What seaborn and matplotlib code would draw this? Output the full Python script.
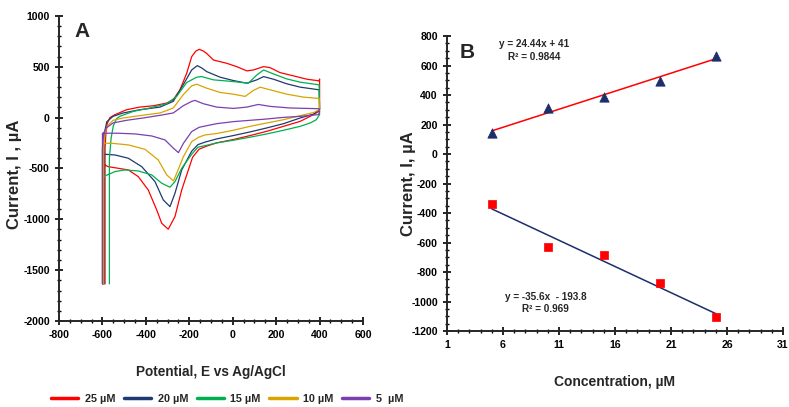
import matplotlib
matplotlib.use("Agg")
import matplotlib.pyplot as plt
from matplotlib import font_manager
from matplotlib.ticker import MultipleLocator
import seaborn as sns
import numpy as np
import pandas as pd

# --- panel A: cyclic voltammograms (E in mV, I in uA) ---
conc_labels = ["25 µM", "20 µM", "15 µM", "10 µM", "5  µM"]
cv_colors = ["#FF0000", "#1F3A70", "#00B050", "#D9A400", "#7B3FB0"]

e_25 = [-588, -588, -584, -578, -566, -543, -489, -428, -366, -305, -274, -243, -212, -189, -170, -154, -135, -120, -89, -28, 18, 65, 95, 142, 172, 218, 280, 342, 398, 400, 400,
        395, 372, 311, 234, 157, 80, 3, -74, -120, -155, -185, -235, -266, -297, -327, -350, -389, -435, -481, -527, -573, -590, -596, -596]
i_25 = [-1635, -300, -150, -60, 0, 29, 78, 104, 117, 143, 176, 274, 437, 600, 655, 672, 655, 632, 567, 535, 502, 460, 469, 502, 492, 443, 411, 378, 362, 380, 85,
        60, 30, -36, -85, -134, -176, -215, -248, -280, -310, -390, -711, -973, -1097, -1039, -908, -711, -580, -514, -498, -482, -465, -465, -1635]

e_20 = [-592, -592, -588, -580, -551, -505, -428, -335, -274, -228, -189, -163, -140, -120, -58, 3, 65, 111, 142, 188, 249, 311, 398, 400,
        372, 311, 234, 157, 80, 3, -74, -127, -160, -189, -235, -266, -289, -320, -358, -419, -481, -542, -588, -594, -594]
i_20 = [-1635, -300, -120, -40, 13, 46, 78, 104, 160, 323, 469, 512, 485, 453, 398, 365, 339, 372, 404, 378, 333, 300, 274, 80,
        35, -3, -59, -101, -140, -176, -209, -240, -265, -330, -514, -744, -875, -809, -629, -482, -399, -367, -360, -360, -1635]

e_15 = [-568, -568, -560, -550, -535, -520, -458, -382, -305, -258, -212, -166, -143, -89, 3, 72, 111, 142, 188, 249, 311, 398, 400,
        385, 357, 311, 234, 157, 80, 3, -74, -127, -160, -189, -235, -266, -289, -327, -373, -435, -496, -542, -588, -596, -596]
i_15 = [-1635, -400, -200, -80, -10, 13, 62, 95, 137, 209, 346, 398, 404, 372, 355, 339, 420, 469, 430, 381, 349, 323, 30,
        -20, -52, -85, -124, -160, -192, -222, -248, -275, -290, -360, -498, -629, -684, -645, -563, -524, -514, -530, -573, -580, -1635]

e_10 = [-594, -594, -588, -578, -551, -505, -428, -335, -274, -228, -189, -166, -120, -58, 3, 57, 95, 126, 172, 249, 326, 398, 400,
        372, 311, 234, 157, 80, 3, -74, -127, -155, -189, -227, -258, -273, -304, -343, -404, -481, -557, -592, -597, -597]
i_10 = [-1635, -300, -150, -85, -26, -3, 20, 46, 95, 225, 313, 329, 290, 248, 231, 209, 267, 300, 274, 231, 202, 189, 80,
        50, 20, -20, -52, -85, -124, -156, -170, -190, -236, -383, -547, -622, -563, -416, -311, -268, -252, -252, -252, -1635]

e_5 = [-600, -600, -594, -582, -551, -489, -412, -335, -274, -228, -189, -174, -135, -74, 3, 65, 118, 172, 265, 398, 400,
       395, 311, 234, 157, 80, 3, -74, -127, -155, -189, -227, -250, -273, -312, -373, -450, -527, -595, -600, -600]
i_5 = [-1635, -300, -150, -101, -52, -26, -3, 23, 46, 117, 160, 170, 137, 104, 91, 104, 130, 111, 95, 88, 60,
       30, 13, 3, -13, -26, -39, -59, -82, -95, -137, -252, -344, -301, -219, -180, -160, -153, -153, -153, -1635]

# --- panel B: calibration ---
conc = [5, 10, 15, 20, 25]
i_ox = [145, 312, 389, 497, 664]
i_red = [-341, -628, -687, -872, -1107]

sns.set_style("ticks")
names = {f.name for f in font_manager.fontManager.ttflist}
narrow = "Liberation Sans Narrow" if "Liberation Sans Narrow" in names else "Liberation Sans"
plt.rcParams["font.family"] = [narrow, "DejaVu Sans"]
plt.rcParams["font.weight"] = "bold"
plt.rcParams["axes.labelweight"] = "bold"
plt.rcParams["axes.linewidth"] = 1.4
plt.rcParams["axes.unicode_minus"] = False
plt.rcParams["xtick.color"] = "black"
plt.rcParams["ytick.color"] = "black"

rows = []
for lab, e, i in zip(conc_labels, [e_25, e_20, e_15, e_10, e_5], [i_25, i_20, i_15, i_10, i_5]):
    for k in range(len(e)):
        rows.append({"E": e[k], "I": i[k], "conc": lab})
cv = pd.DataFrame(rows)

fig = plt.figure(figsize=(7.89, 4.07), dpi=100)
ax1 = fig.add_axes([0.0748, 0.2113, 0.3853, 0.7494])
ax2 = fig.add_axes([0.5665, 0.1867, 0.4259, 0.7248])

sns.lineplot(data=cv, x="E", y="I", hue="conc", hue_order=conc_labels, palette=cv_colors,
             sort=False, estimator=None, lw=0.9, ax=ax1)
handles, labels = ax1.get_legend_handles_labels()
ax1.get_legend().remove()

ax1.set_xlim(-800, 600)
ax1.set_ylim(-2000, 1000)
ax1.xaxis.set_major_locator(MultipleLocator(200))
ax1.xaxis.set_minor_locator(MultipleLocator(50))
ax1.yaxis.set_major_locator(MultipleLocator(500))
ax1.yaxis.set_minor_locator(MultipleLocator(100))
ax1.set_xlabel("Potential, E vs Ag/AgCl", fontsize=9.8)
ax1.set_ylabel("Current, I , µA", fontsize=12, fontfamily="Liberation Sans")
ax1.xaxis.set_label_coords(0.5, -0.145)
ax1.yaxis.set_label_coords(-0.122, 0.48)
ax1.text(-730, 850, "A", fontsize=15, fontweight="bold", fontfamily="Liberation Sans", va="center")

# panel B
sns.scatterplot(x=conc, y=i_ox, marker="^", s=45, color="#1C2E6B", edgecolor="#1C2E6B", ax=ax2, zorder=3)
sns.scatterplot(x=conc, y=i_red, marker="s", s=40, color="#FF0000", edgecolor="#FF0000", ax=ax2, zorder=3)
sns.regplot(x=conc, y=i_ox, scatter=False, ci=None, color="#FF0000", line_kws={"lw": 1.1}, ax=ax2)
sns.regplot(x=conc, y=i_red, scatter=False, ci=None, color="#1C2E6B", line_kws={"lw": 1.1}, ax=ax2)

ax2.set_xlim(1, 31)
ax2.set_ylim(-1200, 800)
ax2.xaxis.set_major_locator(MultipleLocator(5, offset=1))
ax2.xaxis.set_minor_locator(MultipleLocator(1))
ax2.yaxis.set_major_locator(MultipleLocator(200))
ax2.yaxis.set_minor_locator(MultipleLocator(50))
ax2.set_xlabel("Concentration, µM", fontsize=10)
ax2.set_ylabel("Current, I, µA", fontsize=12, fontfamily="Liberation Sans")
ax2.xaxis.set_label_coords(0.5, -0.15)
ax2.yaxis.set_label_coords(-0.092, 0.5)
ax2.text(2.1, 690, "B", fontsize=15, fontweight="bold", fontfamily="Liberation Sans", va="center")
ax2.text(8.8, 746, "y = 24.44x + 41", fontsize=7.2, ha="center", va="center")
ax2.text(8.8, 658, "R² = 0.9844", fontsize=7.2, ha="center", va="center")
ax2.text(9.8, -970, "y = -35.6x  - 193.8", fontsize=7.2, ha="center", va="center")
ax2.text(9.8, -1051, "R² = 0.969", fontsize=7.2, ha="center", va="center")

for ax in (ax1, ax2):
    sns.despine(ax=ax)
    ax.tick_params(which="major", direction="inout", length=6, width=1.2, labelsize=7.6)
    ax.tick_params(which="minor", direction="inout", length=3, width=1.0)

fig.legend(handles, labels, loc="center", bbox_to_anchor=(0.288, 0.02), ncol=5, frameon=False,
           fontsize=7.8, handlelength=2.5, columnspacing=0.8, handletextpad=0.6)
for h in fig.legends[0].get_lines():
    h.set_linewidth(2.5)

fig.savefig("out.png", dpi=100)
